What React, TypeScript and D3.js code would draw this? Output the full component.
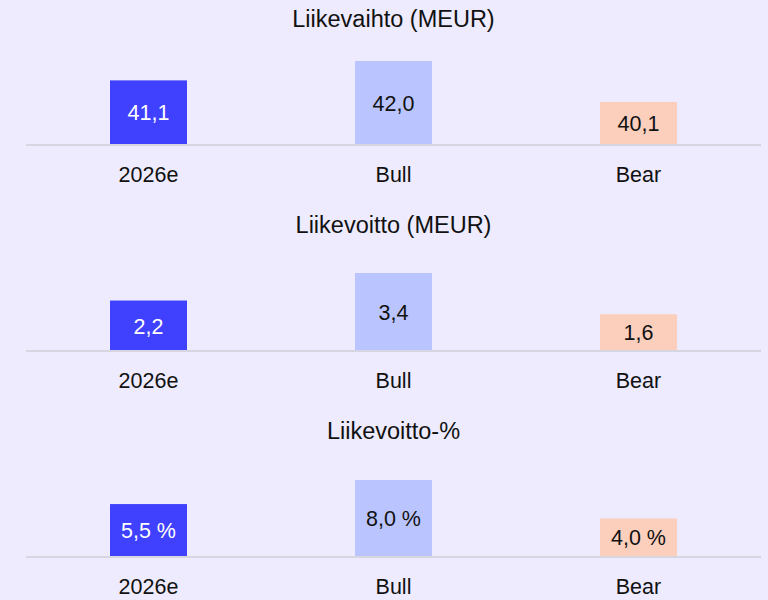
import React, { useEffect, useRef } from 'react';
import * as d3 from 'd3';

const categories = ['2026e', 'Bull', 'Bear'];
const panelTitles = ['Liikevaihto (MEUR)', 'Liikevoitto (MEUR)', 'Liikevoitto-%'];
const revenue = [41.1, 42.0, 40.1];
const ebit = [2.2, 3.4, 1.6];
const ebitMargin = [5.5, 8.0, 4.0];
const valueSuffix = ['', '', ' %'];
// lower end of each panel's value axis (first panel is not zero-based)
const domainMins = [38.1, 0, 0];

const WIDTH = 768;
const HEIGHT = 600;
const barColors = ['#4040ff', '#bac5ff', '#fccfbd'];
const labelColors = ['#ffffff', '#111111', '#111111'];

const App: React.FC = () => {
  const svgRef = useRef<SVGSVGElement>(null);

  useEffect(() => {
    if (!svgRef.current) return;
    const svg = d3.select(svgRef.current);
    svg.selectAll('*').remove();

    svg.append('rect')
      .attr('width', WIDTH).attr('height', HEIGHT)
      .attr('fill', '#edebfd');

    const series = [revenue, ebit, ebitMargin];
    const panelStep = 206;
    const firstBaseline = 145;
    const barHeights = [84, 78, 77];

    const x = d3.scaleBand<string>()
      .domain(categories)
      .range([26, 761])
      .padding(0);
    const barW = 77;
    const fmt = (v: number) => d3.format('.1f')(v).replace('.', ',');

    series.forEach((values, p) => {
      const base = firstBaseline + p * panelStep;
      const g = svg.append('g');

      const y = d3.scaleLinear()
        .domain([domainMins[p], d3.max(values)!])
        .range([base, base - barHeights[p]]);

      g.append('text')
        .attr('x', 393.5)
        .attr('y', base - 118)
        .attr('text-anchor', 'middle')
        .attr('font-size', 23.5)
        .attr('fill', '#111')
        .text(panelTitles[p]);

      g.selectAll('rect.bar')
        .data(values)
        .join('rect')
        .attr('class', 'bar')
        .attr('x', (_, i) => x(categories[i])! + x.bandwidth() / 2 - barW / 2)
        .attr('width', barW)
        .attr('y', d => y(d))
        .attr('height', d => base - y(d))
        .attr('fill', (_, i) => barColors[i]);

      g.selectAll('text.val')
        .data(values)
        .join('text')
        .attr('class', 'val')
        .attr('x', (_, i) => x(categories[i])! + x.bandwidth() / 2)
        .attr('y', d => (y(d) + base) / 2)
        .attr('dy', '0.36em')
        .attr('text-anchor', 'middle')
        .attr('font-size', 21.5)
        .attr('fill', (_, i) => labelColors[i])
        .text(d => fmt(d) + valueSuffix[p]);

      g.append('line')
        .attr('x1', 26).attr('x2', 761)
        .attr('y1', base).attr('y2', base)
        .attr('stroke', '#d6d5e2')
        .attr('stroke-width', 2);

      g.selectAll('text.cat')
        .data(categories)
        .join('text')
        .attr('class', 'cat')
        .attr('x', d => x(d)! + x.bandwidth() / 2)
        .attr('y', base + 37)
        .attr('text-anchor', 'middle')
        .attr('font-size', 21.5)
        .attr('fill', '#111')
        .text(d => d);
    });
  }, []);

  return (
    <div style={{ position: 'absolute', left: 0, top: 0, width: WIDTH, height: HEIGHT }}>
      <svg
        ref={svgRef}
        width={WIDTH}
        height={HEIGHT}
        style={{ display: 'block', fontFamily: '"Liberation Sans", Arial, sans-serif' }}
      />
    </div>
  );
};

export default App;
